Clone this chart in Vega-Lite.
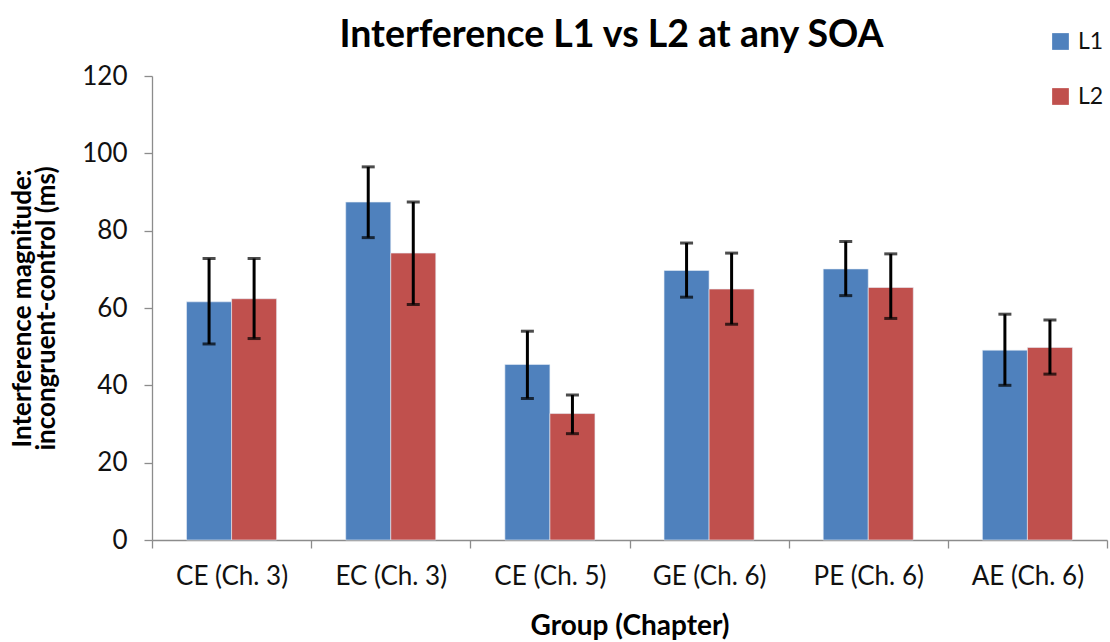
{
  "$schema": "https://vega.github.io/schema/vega-lite/v6.json",
  "width": 955,
  "height": 464,
  "autosize": "none",
  "padding": {"left": 152, "top": 76, "right": 3, "bottom": 102},
  "background": "white",
  "title": {
    "text": "Interference L1 vs L2 at any SOA",
    "font": "Lato",
    "fontSize": 37.5,
    "fontWeight": "bold",
    "color": "#000000",
    "anchor": "middle",
    "dx": -18,
    "offset": -24
  },
  "config": {
    "view": {"stroke": null},
    "font": "Lato"
  },
  "data": {
    "values": [
      {"group": "CE (Ch. 3)", "series": "L1", "value": 61.6, "lo": 50.7, "hi": 72.8},
      {"group": "CE (Ch. 3)", "series": "L2", "value": 62.4, "lo": 52.1, "hi": 72.8},
      {"group": "EC (Ch. 3)", "series": "L1", "value": 87.4, "lo": 78.2, "hi": 96.5},
      {"group": "EC (Ch. 3)", "series": "L2", "value": 74.2, "lo": 60.9, "hi": 87.4},
      {"group": "CE (Ch. 5)", "series": "L1", "value": 45.4, "lo": 36.6, "hi": 54.0},
      {"group": "CE (Ch. 5)", "series": "L2", "value": 32.7, "lo": 27.5, "hi": 37.5},
      {"group": "GE (Ch. 6)", "series": "L1", "value": 69.7, "lo": 62.8, "hi": 76.8},
      {"group": "GE (Ch. 6)", "series": "L2", "value": 64.9, "lo": 55.8, "hi": 74.2},
      {"group": "PE (Ch. 6)", "series": "L1", "value": 70.1, "lo": 63.2, "hi": 77.2},
      {"group": "PE (Ch. 6)", "series": "L2", "value": 65.3, "lo": 57.3, "hi": 74.0},
      {"group": "AE (Ch. 6)", "series": "L1", "value": 49.1, "lo": 40.0, "hi": 58.4},
      {"group": "AE (Ch. 6)", "series": "L2", "value": 49.8, "lo": 42.9, "hi": 56.9}
    ]
  },
  "encoding": {
    "x": {
      "field": "group",
      "type": "nominal",
      "sort": null,
      "scale": {"paddingInner": 0, "paddingOuter": 0},
      "axis": {
        "title": "Group (Chapter)",
        "titleFont": "Lato",
        "titleFontSize": 28,
        "titleFontWeight": "bold",
        "titleColor": "#000000",
        "titlePadding": 23,
        "labelAngle": 0,
        "labelFont": "Lato",
        "labelFontSize": 26,
        "labelColor": "#111111",
        "labelPadding": 15,
        "tickBand": "extent",
        "tickSize": 8,
        "tickColor": "#8c8c8c",
        "domainColor": "#8c8c8c",
        "domainWidth": 1.3,
        "tickWidth": 1.3
      }
    },
    "xOffset": {
      "field": "series",
      "type": "nominal",
      "scale": {"domain": ["L1", "L2"], "paddingInner": 0, "paddingOuter": 0.767}
    }
  },
  "layer": [
    {
      "mark": {"type": "bar", "stroke": "#e8eef6", "strokeWidth": 0.6},
      "encoding": {
        "y": {
          "field": "value",
          "type": "quantitative",
          "scale": {"domain": [0, 120], "nice": false},
          "axis": {
            "values": [0, 20, 40, 60, 80, 100, 120],
            "grid": false,
            "title": ["Interference magnitude:", "incongruent-control (ms)"],
            "titleFont": "Lato",
            "titleFontSize": 26,
            "titleFontWeight": "bold",
            "titleColor": "#000000",
            "titlePadding": 22,
            "titleLineHeight": 24,
            "labelFont": "Lato",
            "labelFontSize": 26,
            "labelColor": "#111111",
            "labelPadding": 17,
            "tickSize": 8,
            "tickColor": "#8c8c8c",
            "domainColor": "#8c8c8c",
            "domainWidth": 1.3,
            "tickWidth": 1.3
          }
        },
        "color": {
          "field": "series",
          "type": "nominal",
          "scale": {"domain": ["L1", "L2"], "range": ["#4F81BD", "#C0504D"]},
          "legend": {
            "title": null,
            "orient": "none",
            "legendX": 897,
            "legendY": -46,
            "symbolType": "square",
            "symbolSize": 280,
            "symbolStrokeWidth": 0,
            "labelFont": "Lato",
            "labelFontSize": 23,
            "labelColor": "#111111",
            "rowPadding": 31,
            "labelOffset": 6
          }
        }
      }
    },
    {
      "mark": {"type": "rule", "color": "#000000", "strokeWidth": 3},
      "encoding": {
        "y": {"field": "lo", "type": "quantitative"},
        "y2": {"field": "hi"}
      }
    },
    {
      "mark": {"type": "tick", "color": "#000000", "thickness": 3, "size": 13, "orient": "horizontal"},
      "encoding": {
        "y": {"field": "lo", "type": "quantitative"}
      }
    },
    {
      "mark": {"type": "tick", "color": "#000000", "thickness": 3, "size": 13, "orient": "horizontal"},
      "encoding": {
        "y": {"field": "hi", "type": "quantitative"}
      }
    }
  ]
}
